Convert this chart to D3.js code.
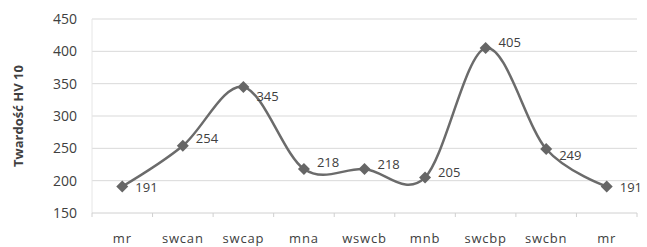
<!DOCTYPE html>
<html>
<head>
<meta charset="utf-8">
<script src="https://cdn.jsdelivr.net/npm/d3@7"></script>
<style>
  body { margin: 0; background: #fff; }
  text { font-family: "Open Sans", sans-serif; fill: #404040; }
</style>
</head>
<body>
<div id="chart"></div>
<script>
const width = 647;
const height = 247;

// Dane
const categories = ["mr", "swcan", "swcap", "mna", "wswcb", "mnb", "swcbp", "swcbn", "mr"];
const hardness = [191, 254, 345, 218, 218, 205, 405, 249, 191];
const yTicks = [150, 200, 250, 300, 350, 400, 450];
const yTitle = "Twardość HV 10";
// przesunięcie etykiet w pionie (jak w Excelu)
const labelDy = [1, -7, 10, -7, -5, -5, -6, 6, 1];

const margin = { top: 19, right: 10, bottom: 34, left: 92 };
const innerW = width - margin.left - margin.right;
const innerH = height - margin.top - margin.bottom;

const svg = d3.select("#chart")
  .append("svg")
  .attr("width", width)
  .attr("height", height);

const g = svg.append("g")
  .attr("transform", `translate(${margin.left},${margin.top})`);

const idx = d3.range(categories.length);

const x = d3.scaleBand()
  .domain(idx)
  .range([0, innerW]);

const y = d3.scaleLinear()
  .domain([150, 450])
  .range([innerH, 0]);

const cx = i => x(i) + x.bandwidth() / 2;

// Siatka
g.selectAll(".grid")
  .data(yTicks.slice(1))
  .enter()
  .append("line")
  .attr("x1", 0)
  .attr("x2", innerW)
  .attr("y1", d => y(d))
  .attr("y2", d => y(d))
  .attr("stroke", "#d9d9d9")
  .attr("stroke-width", 1);

// lewa krawędź
g.append("line")
  .attr("x1", 0).attr("x2", 0)
  .attr("y1", 0).attr("y2", innerH)
  .attr("stroke", "#e6e6e6");

// Oś Y
g.selectAll(".ylab")
  .data(yTicks)
  .enter()
  .append("text")
  .attr("x", -15)
  .attr("y", d => y(d))
  .attr("dy", "0.35em")
  .attr("text-anchor", "end")
  .attr("font-size", 14)
  .text(d => d);

// Oś X
g.append("line")
  .attr("x1", 0).attr("x2", innerW)
  .attr("y1", innerH).attr("y2", innerH)
  .attr("stroke", "#d0d0d0");

g.selectAll(".xtick")
  .data(d3.range(categories.length + 1))
  .enter()
  .append("line")
  .attr("x1", d => d * x.step())
  .attr("x2", d => d * x.step())
  .attr("y1", innerH)
  .attr("y2", innerH + 4)
  .attr("stroke", "#d0d0d0");

g.selectAll(".xlab")
  .data(idx)
  .enter()
  .append("text")
  .attr("x", d => cx(d))
  .attr("y", innerH + 25)
  .attr("dy", "0.35em")
  .attr("text-anchor", "middle")
  .attr("font-size", 13)
  .attr("letter-spacing", 0.8)
  .text(d => categories[d]);

// Tytuł osi Y
svg.append("text")
  .attr("transform", `translate(23,${margin.top + innerH / 2}) rotate(-90)`)
  .attr("text-anchor", "middle")
  .attr("font-size", 13)
  .attr("font-weight", "bold")
  .text(yTitle);

// Linia wygładzona
const line = d3.line()
  .x(d => cx(d))
  .y(d => y(hardness[d]))
  .curve(d3.curveCatmullRom.alpha(0));

g.append("path")
  .datum(idx)
  .attr("fill", "none")
  .attr("stroke", "#6b6b6b")
  .attr("stroke-width", 2.5)
  .attr("d", line);

// Znaczniki
g.selectAll(".marker")
  .data(idx)
  .enter()
  .append("path")
  .attr("d", d3.symbol(d3.symbolSquare, 72))
  .attr("transform", d => `translate(${cx(d)},${y(hardness[d])}) rotate(45)`)
  .attr("fill", "#666666");

// Etykiety
g.selectAll(".val")
  .data(idx)
  .enter()
  .append("text")
  .attr("x", d => cx(d) + 13)
  .attr("y", d => y(hardness[d]) + labelDy[d])
  .attr("dy", "0.35em")
  .attr("font-size", 13)
  .text(d => hardness[d]);
</script>
</body>
</html>
